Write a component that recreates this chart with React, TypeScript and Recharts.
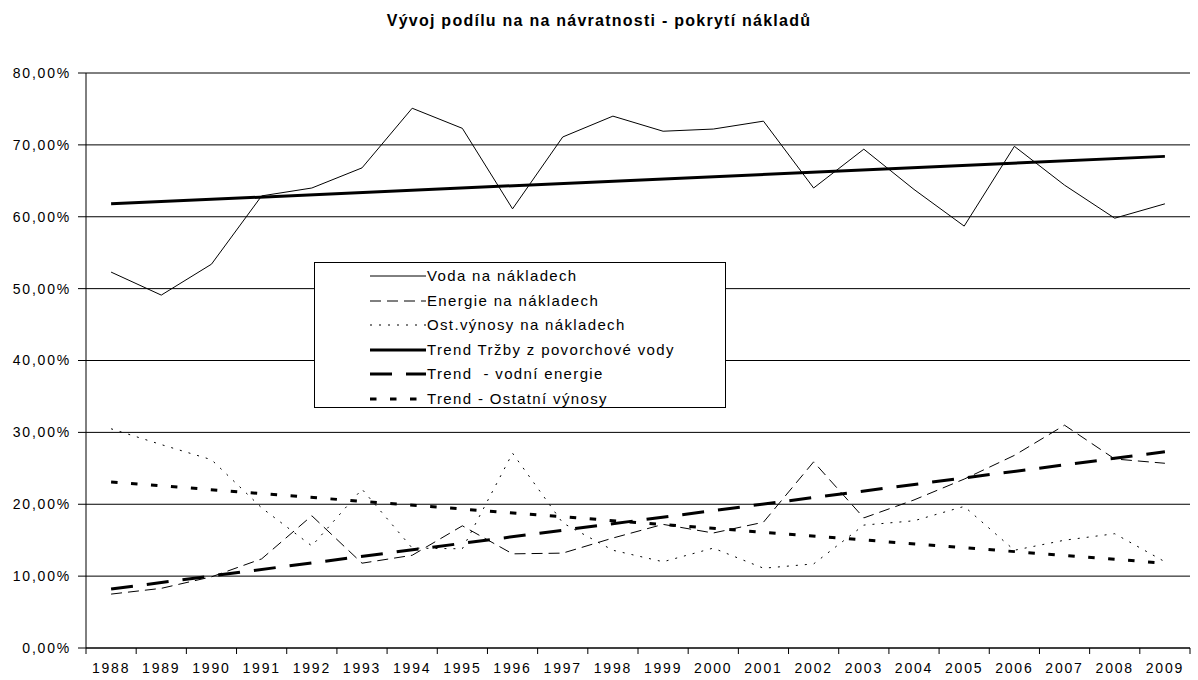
import { CartesianGrid, Legend, Line, LineChart, XAxis, YAxis } from "recharts";

const years = [
  "1988", "1989", "1990", "1991", "1992", "1993", "1994", "1995", "1996", "1997", "1998",
  "1999", "2000", "2001", "2002", "2003", "2004", "2005", "2006", "2007", "2008", "2009",
];

// values in percent
const voda = [
  52.3, 49.1, 53.4, 62.9, 64.0, 66.8, 75.1, 72.3, 61.1, 71.1, 74.0,
  71.9, 72.2, 73.3, 64.0, 69.4, 63.8, 58.7, 69.8, 64.4, 59.8, 61.8,
];
const energie = [
  7.5, 8.3, 9.9, 12.4, 18.4, 11.8, 12.9, 17.0, 13.1, 13.2, 15.3,
  17.2, 16.0, 17.5, 25.9, 18.1, 20.6, 23.5, 26.8, 31.0, 26.3, 25.7,
];
const ostatni = [
  30.5, 28.3, 26.2, 19.5, 14.2, 22.1, 13.9, 13.8, 27.1, 17.4, 13.6,
  12.0, 13.9, 11.1, 11.7, 17.1, 17.7, 19.7, 13.6, 15.0, 15.9, 12.0,
];
// trend lines: first and last year only
const trendVoda = [61.8, 68.4];
const trendEnergie = [8.2, 27.3];
const trendOstatni = [23.1, 11.8];

const yTicks = [0, 10, 20, 30, 40, 50, 60, 70, 80];

const FONT = '"Liberation Sans", Arial, sans-serif';

const series = [
  { key: "voda", name: "Voda na nákladech", width: 1, dash: undefined },
  { key: "energie", name: "Energie na nákladech", width: 1, dash: "11 6" },
  { key: "ostatni", name: "Ost.výnosy na nákladech", width: 1, dash: "2 7" },
  { key: "trendVoda", name: "Trend Tržby z povorchové vody", width: 3, dash: undefined },
  { key: "trendEnergie", name: "Trend  - vodní energie", width: 3, dash: "22 14" },
  { key: "trendOstatni", name: "Trend - Ostatní výnosy", width: 3, dash: "6.5 13.5" },
];

const last = years.length - 1;
const endsOnly = (pair: number[], i: number) =>
  i === 0 ? pair[0] : i === last ? pair[1] : null;

const data = years.map((year, i) => ({
  x: i,
  year,
  voda: voda[i],
  energie: energie[i],
  ostatni: ostatni[i],
  trendVoda: endsOnly(trendVoda, i),
  trendEnergie: endsOnly(trendEnergie, i),
  trendOstatni: endsOnly(trendOstatni, i),
}));

const centers = years.map((_, i) => i);
const edges = [...years.map((_, i) => i - 0.5), last + 0.5];

const fmtPct = (v: number) => v.toFixed(2).replace(".", ",") + "%";

const axisTick = { fontSize: 14, fill: "#000", letterSpacing: 1.8 };

function LegendBox() {
  return (
    <div
      style={{
        width: 412,
        height: 146,
        border: "1px solid #000",
        background: "#fff",
        boxSizing: "border-box",
        paddingTop: 1,
        fontFamily: FONT,
        fontSize: 15,
        letterSpacing: 1.35,
        color: "#000",
      }}
    >
      {series.map((s) => (
        <div key={s.key} style={{ display: "flex", alignItems: "center", height: 24.5 }}>
          <svg width={56} height={10} style={{ marginLeft: 55, flex: "none" }}>
            <line
              x1={0}
              y1={5}
              x2={56}
              y2={5}
              stroke="#000"
              strokeWidth={s.width}
              strokeDasharray={s.dash}
            />
          </svg>
          <span style={{ marginLeft: 1, whiteSpace: "pre", lineHeight: "24.5px" }}>{s.name}</span>
        </div>
      ))}
    </div>
  );
}

export default function App() {
  return (
    <div style={{ position: "absolute", left: 0, top: 0, width: 1198, height: 680, background: "#fff" }}>
      <div
        style={{
          position: "absolute",
          top: 12,
          left: 0,
          width: 1198,
          textAlign: "center",
          fontFamily: FONT,
          fontWeight: "bold",
          fontSize: 16,
          letterSpacing: 1.25,
          color: "#000",
        }}
      >
        Vývoj podílu na na návratnosti - pokrytí nákladů
      </div>
      <LineChart
        width={1198}
        height={680}
        data={data}
        margin={{ top: 73, right: 8, left: 0, bottom: 0 }}
        style={{ fontFamily: FONT }}
      >
        <CartesianGrid horizontal vertical={false} stroke="#000" xAxisId="labels" />
        <XAxis
          xAxisId="edges"
          type="number"
          dataKey="x"
          domain={[-0.5, last + 0.5]}
          ticks={edges}
          tick={() => <g />}
          tickSize={6}
          height={6}
          axisLine={{ stroke: "#000" }}
          tickLine={{ stroke: "#000" }}
        />
        <XAxis
          xAxisId="labels"
          type="number"
          dataKey="x"
          domain={[-0.5, last + 0.5]}
          ticks={centers}
          tickFormatter={(v: number) => years[v]}
          axisLine={false}
          tickLine={false}
          tickSize={0}
          tickMargin={9}
          height={26}
          interval={0}
          tick={axisTick}
        />
        <YAxis
          domain={[0, 80]}
          ticks={yTicks}
          tickFormatter={fmtPct}
          width={86}
          tickSize={8}
          tickMargin={7}
          axisLine={{ stroke: "#000" }}
          tickLine={{ stroke: "#000" }}
          tick={axisTick}
        />
        <Legend
          layout="vertical"
          align="center"
          verticalAlign="middle"
          content={() => <LegendBox />}
          wrapperStyle={{ left: 314, top: 262, width: 412 }}
        />
        {series.map((s) => (
          <Line
            key={s.key}
            xAxisId="labels"
            type="linear"
            dataKey={s.key}
            name={s.name}
            stroke="#000"
            strokeWidth={s.width}
            strokeDasharray={s.dash}
            dot={false}
            activeDot={false}
            connectNulls
            isAnimationActive={false}
          />
        ))}
      </LineChart>
    </div>
  );
}
